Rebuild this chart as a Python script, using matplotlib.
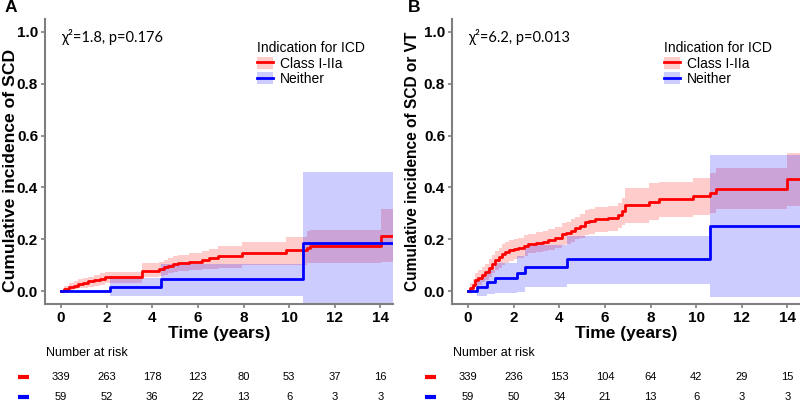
import numpy as np
import matplotlib
matplotlib.use("Agg")
import matplotlib.pyplot as plt
from matplotlib.patches import Patch
from matplotlib.lines import Line2D
from matplotlib.transforms import blended_transform_factory

plt.rcParams['font.family'] = ['Liberation Sans', 'DejaVu Sans']

# ------------------------------------------------------------
# Data
# ------------------------------------------------------------
T_END = 14.55
risk_times = [0, 2, 4, 6, 8, 10, 12, 14]

# Panel A: SCD
a_red_t = [0, 0.15, 0.35, 0.55, 0.75, 0.95, 1.2, 1.45, 1.7, 1.95, 3.57, 4.3, 4.5, 4.7, 4.9,
           5.15, 5.6, 6.2, 6.5, 6.9, 7.94, 9.84, 10.79, 10.9, 14.04]
a_red_est = [0, 0.008, 0.014, 0.02, 0.027, 0.032, 0.037, 0.043, 0.048, 0.053, 0.078, 0.085, 0.092,
             0.098, 0.104, 0.109, 0.114, 0.12, 0.126, 0.135, 0.145, 0.158, 0.168, 0.174, 0.213]
a_red_lo = [0, 0.0, 0.002, 0.006, 0.01, 0.013, 0.017, 0.021, 0.025, 0.03, 0.053, 0.058, 0.063,
            0.068, 0.073, 0.077, 0.08, 0.084, 0.087, 0.09, 0.1, 0.1, 0.107, 0.107, 0.113]
a_red_hi = [0, 0.02, 0.03, 0.037, 0.045, 0.05, 0.056, 0.063, 0.068, 0.075, 0.108, 0.113, 0.12,
            0.127, 0.135, 0.14, 0.147, 0.155, 0.162, 0.175, 0.19, 0.21, 0.23, 0.235, 0.315]

a_blue_t = [0, 2.16, 4.39, 10.6]
a_blue_est = [0, 0.017, 0.046, 0.184]
a_blue_lo = [0, -0.02, -0.02, -0.045]
a_blue_hi = [0, 0.049, 0.105, 0.458]

a_risk_red = [339, 263, 178, 123, 80, 53, 37, 16]
a_risk_blue = [59, 52, 36, 22, 13, 6, 3, 3]

# Panel B: SCD or VT
b_red_t = [0, 0.1, 0.2, 0.31, 0.45, 0.6, 0.74, 0.9, 1.05, 1.18, 1.35, 1.5, 1.62, 1.8, 2.0, 2.2,
           2.45, 2.64, 3.0, 3.3, 3.52, 3.8, 4.1, 4.3, 4.5, 4.68, 4.9, 5.12, 5.3, 5.56, 6.14, 6.58,
           6.75, 6.87, 7.95, 8.39, 9.84, 10.62, 10.87, 14.0]
b_red_est = [0, 0.012, 0.025, 0.042, 0.052, 0.062, 0.074, 0.09, 0.105, 0.12, 0.13, 0.142, 0.152,
             0.158, 0.162, 0.165, 0.173, 0.18, 0.186, 0.19, 0.197, 0.205, 0.219, 0.224, 0.232,
             0.242, 0.25, 0.267, 0.272, 0.278, 0.283, 0.293, 0.31, 0.332, 0.344, 0.354, 0.366,
             0.379, 0.393, 0.431]
b_red_hi = [0, 0.03, 0.048, 0.068, 0.08, 0.092, 0.106, 0.124, 0.14, 0.156, 0.167, 0.18, 0.19,
            0.197, 0.202, 0.206, 0.215, 0.222, 0.229, 0.233, 0.24, 0.248, 0.262, 0.268, 0.277,
            0.287, 0.296, 0.312, 0.318, 0.324, 0.33, 0.338, 0.36, 0.396, 0.418, 0.42, 0.437,
            0.454, 0.473, 0.531]
b_red_lo = [0, -0.003, 0.005, 0.018, 0.025, 0.033, 0.043, 0.056, 0.069, 0.081, 0.09, 0.1, 0.11,
            0.117, 0.122, 0.126, 0.134, 0.145, 0.15, 0.154, 0.16, 0.166, 0.177, 0.182, 0.19, 0.2,
            0.206, 0.216, 0.222, 0.228, 0.233, 0.242, 0.255, 0.263, 0.274, 0.284, 0.293, 0.302,
            0.315, 0.328]

b_blue_t = [0, 0.38, 0.82, 1.18, 2.13, 2.5, 4.36, 10.62]
b_blue_est = [0, 0.017, 0.033, 0.051, 0.07, 0.091, 0.122, 0.252]
b_blue_lo = [0, -0.019, -0.012, -0.009, -0.003, 0.014, 0.026, -0.022]
b_blue_hi = [0, 0.055, 0.081, 0.107, 0.135, 0.177, 0.213, 0.527]

b_risk_red = [339, 236, 153, 104, 64, 42, 29, 15]
b_risk_blue = [59, 50, 34, 21, 13, 6, 3, 3]

RED = "#FF0000"
BLUE = "#0000FF"
GREY = "#7F7F7F"


def ext(t, v):
    # carry last value out to the end of the axis
    return list(t) + [T_END], list(v) + [v[-1]]


def draw_panel(ax, curves, ylabel, ylab_pos, ylab_size, stat, letter, risk_red, risk_blue,
               left_px):
    for t, est, lo, hi, col in curves:
        tt, ll = ext(t, lo)
        _, hh = ext(t, hi)
        ax.fill_between(tt, ll, hh, step="post", color=col, alpha=0.2, lw=0)
    for t, est, lo, hi, col in curves:
        tt, ee = ext(t, est)
        ax.step(tt, ee, where="post", color=col, lw=2)

    ax.set_xlim(-0.7, T_END)
    ax.set_ylim(-0.05, 1.05)
    ax.set_xticks([0, 2, 4, 6, 8, 10, 12, 14])
    ax.set_yticks([0.0, 0.2, 0.4, 0.6, 0.8, 1.0])
    ax.set_yticklabels(["0.0", "0.2", "0.4", "0.6", "0.8", "1.0"])
    for s in ["top", "right"]:
        ax.spines[s].set_visible(False)
    for s in ["left", "bottom"]:
        ax.spines[s].set_color(GREY)
        ax.spines[s].set_linewidth(1.5)
    ax.tick_params(colors=GREY, labelcolor="black", length=3, width=1.2, labelsize=11, pad=2)
    for lab in ax.get_xticklabels() + ax.get_yticklabels():
        lab.set_fontweight("bold")
    ax.set_xlabel("Time (years)", fontsize=12.5, fontweight="bold", labelpad=1)
    ax.set_ylabel(ylabel, fontsize=ylab_size, fontweight="bold", va="center")
    ax.yaxis.set_label_coords(*ylab_pos)

    ax.text(0, 0.98, stat, fontsize=10.5, va="center", ha="left",
            family=["Lato", "DejaVu Sans"])

    handles = [(Patch(facecolor=RED, alpha=0.2, lw=0), Line2D([], [], color=RED, lw=2)),
               (Patch(facecolor=BLUE, alpha=0.2, lw=0), Line2D([], [], color=BLUE, lw=2))]
    ax.legend(handles, ["Class I-IIa", "Neither"], title="Indication for ICD",
              loc="upper left", bbox_to_anchor=(0.58, 0.956), frameon=False,
              fontsize=10, title_fontsize=10, handlelength=1.2, handleheight=1.0,
              handletextpad=0.5, labelspacing=0.1, borderpad=0.2,
              alignment="left")

    fig = ax.figure
    fig.text(left_px / 800, 1 - 8 / 401, letter, fontsize=12.5, fontweight="bold",
             ha="left", va="center")

    tr = blended_transform_factory(ax.transData, fig.transFigure)
    ax.text(-0.67, 1 - 353 / 401, "Number at risk", transform=tr, fontsize=9,
            ha="left", va="center")
    for x, n in zip(risk_times, risk_red):
        ax.text(x, 1 - 377 / 401, str(n), transform=tr, fontsize=8, ha="center", va="center")
    for x, n in zip(risk_times, risk_blue):
        ax.text(x, 1 - 397 / 401, str(n), transform=tr, fontsize=8, ha="center", va="center")
    ax.plot([-1.9, -1.4], [1 - 377 / 401] * 2, transform=tr, color=RED, lw=3,
            clip_on=False, solid_capstyle="butt")
    ax.plot([-1.9, -1.4], [1 - 397 / 401] * 2, transform=tr, color=BLUE, lw=3,
            clip_on=False, solid_capstyle="butt")


fig = plt.figure(figsize=(8, 4.01), dpi=100)
ax_a = fig.add_axes([45 / 800, 1 - 304 / 401, 348 / 800, 285 / 401])
ax_b = fig.add_axes([452 / 800, 1 - 304 / 401, 348 / 800, 285 / 401])

draw_panel(ax_a,
           [(a_red_t, a_red_est, a_red_lo, a_red_hi, RED),
            (a_blue_t, a_blue_est, a_blue_lo, a_blue_hi, BLUE)],
           "Cumulative incidence of SCD", (-0.1, 0.47), 12.6, "χ²=1.8, p=0.176", "A",
           a_risk_red, a_risk_blue, 5)
draw_panel(ax_b,
           [(b_red_t, b_red_est, b_red_lo, b_red_hi, RED),
            (b_blue_t, b_blue_est, b_blue_lo, b_blue_hi, BLUE)],
           "Cumulative incidence of SCD or VT", (-0.113, 0.5), 11.2, "χ²=6.2, p=0.013", "B",
           b_risk_red, b_risk_blue, 408)

fig.savefig("out.png", dpi=100)
